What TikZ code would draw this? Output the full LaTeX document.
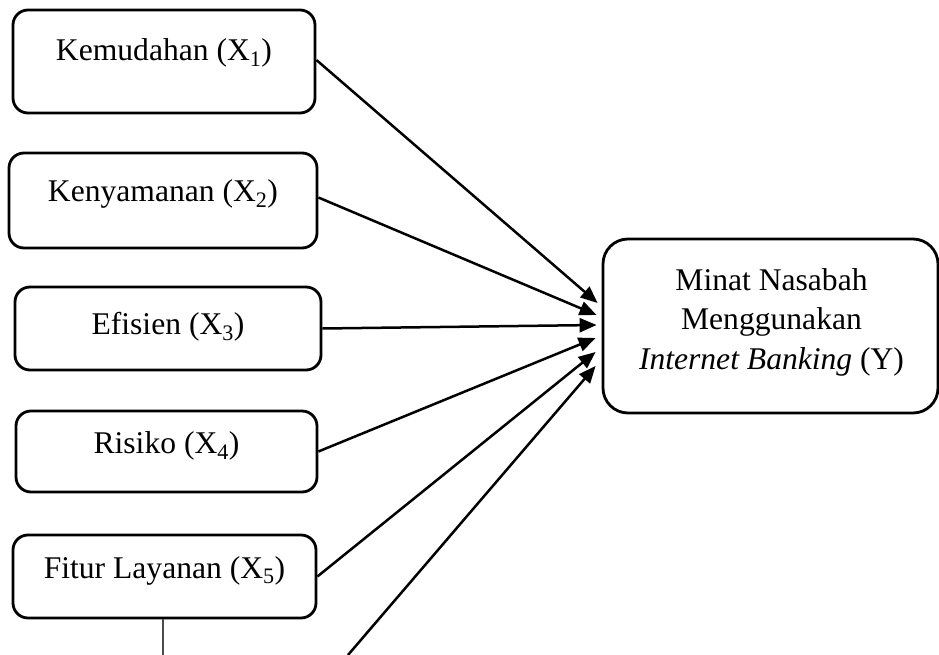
\documentclass[tikz,border=0pt]{standalone}
\usepackage{fontspec}
\setmainfont{Liberation Serif}
\usetikzlibrary{arrows.meta}
\begin{document}
\begin{tikzpicture}[x=1pt,y=-1pt,
  varbox/.style={draw=black, line width=2.8pt, rounded corners=15pt, inner sep=0pt},
  ybox/.style={draw=black, line width=2.8pt, rounded corners=25pt, inner sep=0pt},
  lbl/.style={font=\fontsize{31.6}{39.5}\selectfont, align=center, inner sep=0pt},
  arr/.style={line width=2.5pt, -{Triangle[length=17pt,width=14pt]}},
  stem/.style={line width=1.7pt, draw=black!70}]
\useasboundingbox (0,0) rectangle (939,655);
% boxes
\node[varbox, minimum width=302pt, minimum height=103pt] (x1) at (164,61.5) {};
\node[varbox, minimum width=308pt, minimum height=95pt] (x2) at (163,200.5) {};
\node[varbox, minimum width=306pt, minimum height=83pt] (x3) at (168,328.5) {};
\node[varbox, minimum width=301pt, minimum height=81pt] (x4) at (166.5,451.5) {};
\node[varbox, minimum width=303pt, minimum height=83pt] (x5) at (164.5,576.5) {};
\node[ybox, minimum width=335pt, minimum height=174pt] (y) at (770.5,326) {};
% labels
\node[lbl] (l1) at ([yshift=9pt]x1.center) {Kemudahan (X\textsubscript{1})};
\node[lbl] (l2) at ([yshift=7pt]x2.center) {Kenyamanan (X\textsubscript{2})};
\node[lbl] (l3) at ([yshift=2pt]x3.center) {Efisien (X\textsubscript{3})};
\node[lbl] (l4) at ([yshift=6pt]x4.center) {Risiko (X\textsubscript{4})};
\node[lbl] (l5) at ([yshift=6pt]x5.center) {Fitur Layanan (X\textsubscript{5})};
\node[lbl] (ly) at ([xshift=1pt,yshift=4pt]y.center) {Minat Nasabah\\Menggunakan\\\textit{Internet Banking} (Y)};
% arrow targets
\coordinate (t1) at ([xshift=-4pt,yshift=23pt]y.west);
\coordinate (t2) at ([xshift=-5pt,yshift=11pt]y.west);
\coordinate (t3) at ([xshift=-5pt,yshift=1pt]y.west);
\coordinate (t4) at ([xshift=-6pt,yshift=-12pt]y.west);
\coordinate (t5) at ([xshift=-6pt,yshift=-26pt]y.west);
\coordinate (t6) at ([xshift=-6pt,yshift=-40pt]y.west);
\coordinate (b6) at (348,655);
\coordinate (b5) at (163,655);
% connectors
\draw[arr] ([yshift=1.5pt]x1.east) -- (t1);
\draw[arr] ([yshift=3pt]x2.east) -- (t2);
\draw[arr] (x3.east) -- (t3);
\draw[arr] (x4.east) -- (t4);
\draw[arr] (x5.east) -- (t5);
\draw[arr] (b6) -- (t6);
\draw[stem] (x5.south -| b5) -- (b5);
\end{tikzpicture}
\end{document}
